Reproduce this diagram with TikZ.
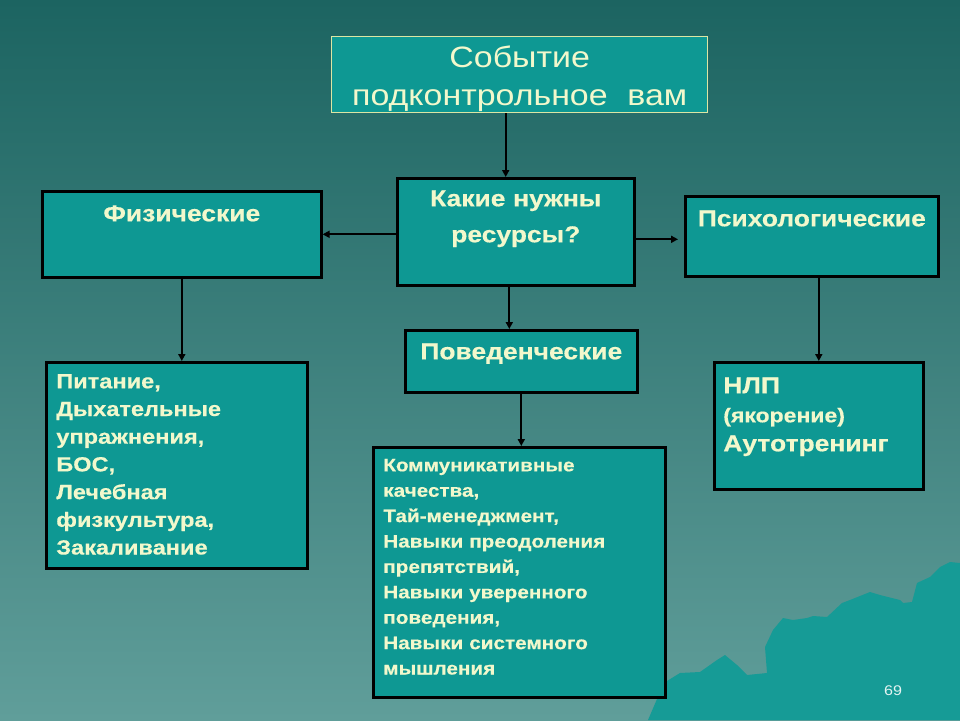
\documentclass[tikz,border=0pt]{standalone}
\usepackage{fontspec}
\setmainfont{Liberation Sans}[FakeStretch=1.15, BoldFeatures={FakeBold=0.4}]
\usepackage{tikz}
\usetikzlibrary{arrows.meta}
\usepackage{xcolor}
\definecolor{bgtop}{HTML}{1C6461}
\definecolor{bgbot}{HTML}{609E9A}
\definecolor{boxfill}{HTML}{0E9893}
\definecolor{boxtext}{HTML}{F2F8CC}
\definecolor{topline}{HTML}{DCE6A4}
\definecolor{hill}{HTML}{169B96}
\definecolor{pagenum}{HTML}{E4F4F2}

\begin{document}
\begin{tikzpicture}[
  x=1pt, y=-1pt,
  box/.style={draw=black, line width=2.6pt, fill=boxfill, text=boxtext,
              anchor=north west, inner xsep=10pt, inner ysep=0pt},
  head/.style={box, align=center, font=\bfseries\fontsize{23}{36}\selectfont},
  list/.style={box, align=left},
  arr/.style={-{Triangle[length=7pt, width=7pt]}, line width=1.8pt}
]
\shade[top color=bgtop, bottom color=bgbot] (0,0) rectangle (960,720);
\useasboundingbox (0,0) rectangle (960,720);
\fill[hill] (648,720) -- (660,692) -- (667,681) -- (680,673)
  -- (700,672) -- (717,660) -- (725,655) -- (737,665) -- (747,675)
  -- (767,673) -- (765,647) -- (773,630) -- (783,618) -- (793,620)
  -- (807,618) -- (813,616) -- (827,617) -- (842,603) -- (850,600)
  -- (870,592) -- (880,595) -- (900,600) -- (903,603) -- (912,602)
  -- (917,583) -- (930,577) -- (940,567) -- (950,562) -- (960,563)
  -- (960,720) -- cycle;

\node[box, draw=topline, line width=1.4pt, align=center, text width=356pt,
      text height=31pt, text depth=45pt, font=\fontsize{29.5}{38}\selectfont]
  (ev) at (331,36) {Событие\\подконтрольное~ вам};
\node[head, text width=217pt, text height=28pt, text depth=79pt]
  (res) at (396,177) {Какие нужны\\ресурсы?};
\node[head, text width=259pt, text height=30pt, text depth=56pt]
  (phys) at (41,190) {Физические};
\node[head, inner xsep=5pt, text width=243pt, text height=30pt, text depth=50pt]
  (psy) at (684,195) {Психологические};
\node[head, text width=212pt, text height=29pt, text depth=33pt]
  (beh) at (404,329) {Поведенческие};

\node[list, text width=241pt, text height=26pt, text depth=180pt,
      font=\bfseries\fontsize{20.5}{27.7}\selectfont]
  (physlist) at (45,361) {Питание,\\Дыхательные\\упражнения,\\БОС,\\Лечебная\\физкультура,\\Закаливание};
\node[list, text width=272pt, text height=24pt, text depth=226pt,
      font=\bfseries\fontsize{18}{25.4}\selectfont]
  (behlist) at (372,446) {Коммуникативные\\качества,\\Тай-менеджмент,\\Навыки преодоления\\препятствий,\\Навыки уверенного\\поведения,\\Навыки системного\\мышления};
\node[list, inner xsep=9pt, text width=191pt, text height=31pt, text depth=96pt,
      font=\bfseries\fontsize{23}{29}\selectfont]
  (psylist) at (713,361) {НЛП\\{\fontsize{20}{29}\selectfont(якорение)}\\Аутотренинг};

\node[text=pagenum, font=\fontsize{14}{14}\selectfont] (pg) at (893,691) {69};

\draw[arr] ([xshift=-14pt]ev.south) -- ([xshift=-14pt]ev.south |- res.north);
\draw[arr] ([yshift=-2.5pt]res.west) -- ([yshift=-2.5pt]res.west -| phys.east);
\draw[arr, shorten >=6pt] ([yshift=-7.5pt]res.east) -- ([yshift=-7.5pt]res.east -| psy.west);
\draw[arr] ([xshift=-6.5pt]res.south) -- ([xshift=-6.5pt]res.south |- beh.north);
\draw[arr] (phys.south) -- (phys.south |- physlist.north);
\draw[arr] (beh.south) -- (beh.south |- behlist.north);
\draw[arr] (psylist.north |- psy.south) -- (psylist.north);
\end{tikzpicture}
\end{document}
